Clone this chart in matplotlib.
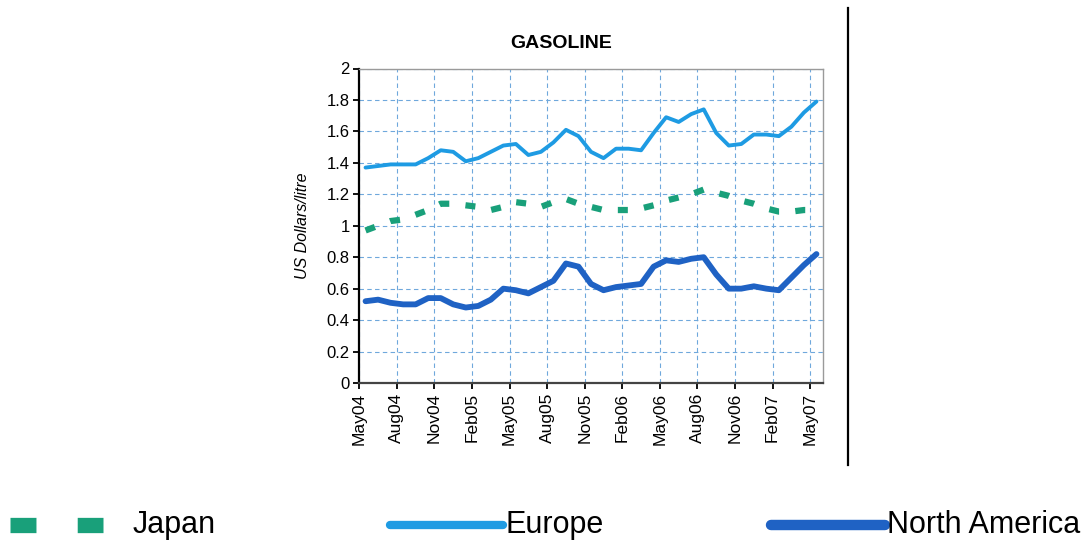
import numpy as np
import matplotlib.pyplot as plt
from matplotlib.lines import Line2D

# monthly gasoline prices, May04 .. May07 (US$/litre)
months = ['May04', 'Jun04', 'Jul04', 'Aug04', 'Sep04', 'Oct04', 'Nov04', 'Dec04', 'Jan05',
          'Feb05', 'Mar05', 'Apr05', 'May05', 'Jun05', 'Jul05', 'Aug05', 'Sep05', 'Oct05',
          'Nov05', 'Dec05', 'Jan06', 'Feb06', 'Mar06', 'Apr06', 'May06', 'Jun06', 'Jul06',
          'Aug06', 'Sep06', 'Oct06', 'Nov06', 'Dec06', 'Jan07', 'Feb07', 'Mar07', 'Apr07', 'May07']
europe = [1.37, 1.38, 1.39, 1.39, 1.39, 1.43, 1.48, 1.47, 1.41, 1.43, 1.47, 1.51, 1.52,
          1.45, 1.47, 1.53, 1.61, 1.57, 1.47, 1.43, 1.49, 1.49, 1.48, 1.59, 1.69, 1.66,
          1.71, 1.74, 1.59, 1.51, 1.52, 1.58, 1.58, 1.57, 1.63, 1.72, 1.79]
japan = [0.97, 1.00, 1.03, 1.04, 1.07, 1.10, 1.14, 1.14, 1.13, 1.12, 1.10, 1.12, 1.15,
         1.14, 1.12, 1.15, 1.17, 1.14, 1.12, 1.10, 1.10, 1.10, 1.11, 1.13, 1.16, 1.18,
         1.20, 1.23, 1.21, 1.19, 1.16, 1.14, 1.11, 1.09, 1.09, 1.10, 1.10]
north_america = [0.52, 0.53, 0.51, 0.50, 0.50, 0.54, 0.54, 0.50, 0.48, 0.49, 0.53, 0.60,
                 0.59, 0.57, 0.61, 0.65, 0.76, 0.74, 0.63, 0.59, 0.61, 0.62, 0.63, 0.74,
                 0.78, 0.77, 0.79, 0.80, 0.69, 0.60, 0.60, 0.615, 0.60, 0.59, 0.67, 0.75, 0.82]

c_eu = '#1e9be3'
c_jp = '#19a07a'
c_na = '#1f62c4'

plt.rcParams['font.family'] = ['Liberation Sans', 'DejaVu Sans']

fig = plt.figure(figsize=(10.89, 5.43), dpi=100)
ax = fig.add_axes([359.3 / 1089, 160 / 543, 463.4 / 1089, 314.5 / 543])

x = np.arange(len(months)) + 0.5
ax.plot(x, europe, color=c_eu, lw=2.8, solid_capstyle='round', zorder=3)
ax.plot(x, japan, color=c_jp, lw=4.5, dashes=(1.6, 2.6), zorder=3)
ax.plot(x, north_america, color=c_na, lw=4.2, solid_capstyle='round', zorder=3)

ax.set_xlim(0, len(months))
ax.set_ylim(0, 2)
ax.set_xticks(np.arange(0, len(months), 3))
ax.set_xticklabels(months[::3], rotation=90, fontsize=12.5)
ax.set_yticks(np.arange(0, 2.01, 0.2))
ax.set_yticklabels(['%g' % v for v in np.round(np.arange(0, 2.01, 0.2), 1)], fontsize=12)
ax.grid(True, color='#6fa8dc', lw=0.8, dashes=(4, 3))
ax.set_axisbelow(True)
ax.tick_params(direction='out', length=4, width=1.3, color='black', pad=3)
ax.spines['left'].set_linewidth(1.6)
ax.spines['bottom'].set_linewidth(1.6)
ax.spines['bottom'].set_color('#444444')
for s in ['top', 'right']:
    ax.spines[s].set_color('#9a9a9a')
    ax.spines[s].set_linewidth(1.0)
ax.set_ylabel('US Dollars/litre', fontsize=11.5, style='italic', labelpad=12)

fig.text(561 / 1089, 1 - 44 / 543, 'GASOLINE', fontsize=14, fontweight='bold',
         ha='center', va='center')

# divider line on the right
fig.add_artist(Line2D([848 / 1089, 848 / 1089], [1 - 8 / 543, 1 - 465 / 543],
                      color='black', lw=1.6, transform=fig.transFigure))

# legend along the bottom
ly = 1 - 525 / 543
fig.add_artist(Line2D([10 / 1089, 103 / 1089], [ly, ly], color=c_jp, lw=11,
                      dashes=(1.7, 2.7), solid_capstyle='butt', dash_capstyle='butt',
                      transform=fig.transFigure))
fig.add_artist(Line2D([390 / 1089, 503 / 1089], [ly, ly], color=c_eu, lw=6,
                      solid_capstyle='round', transform=fig.transFigure))
fig.add_artist(Line2D([771 / 1089, 885 / 1089], [ly, ly], color=c_na, lw=7.5,
                      solid_capstyle='round', transform=fig.transFigure))
for tx, label in [(133, 'Japan'), (505, 'Europe'), (887, 'North America')]:
    fig.text(tx / 1089, ly, label, fontsize=22, ha='left', va='center')

fig.savefig('out.png', dpi=100)
